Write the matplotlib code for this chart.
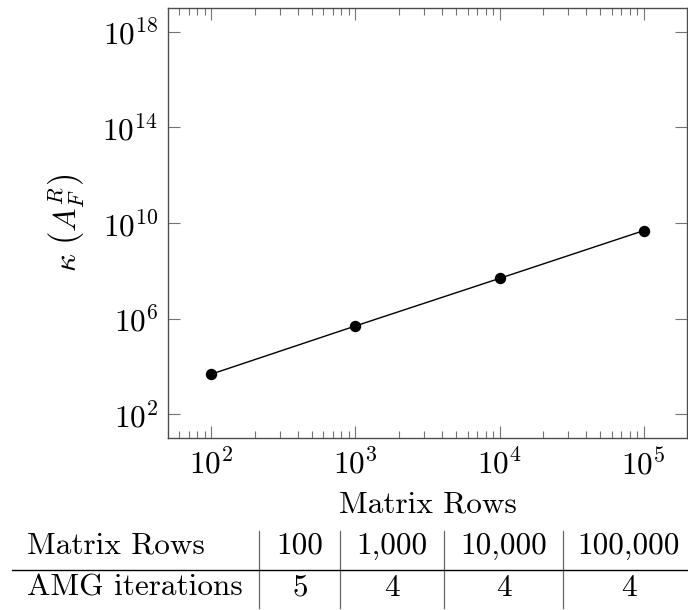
"""Condition number of A_F^R vs matrix rows, with AMG iteration table."""

import matplotlib

matplotlib.use("Agg")
import matplotlib.pyplot as plt
from matplotlib.lines import Line2D
from matplotlib.ticker import LogLocator, LogFormatterMathtext, NullFormatter, NullLocator

plt.rcParams["font.family"] = ["cmr10", "DejaVu Serif"]
plt.rcParams["mathtext.fontset"] = "cm"
plt.rcParams["axes.formatter.use_mathtext"] = True

# data
rows = [1e2, 1e3, 1e4, 1e5]
kappa = [4.7e3, 4.9e5, 4.8e7, 4.8e9]
table_head = ["Matrix Rows", "100", "1,000", "10,000", "100,000"]
table_iter = ["AMG iterations", "5", "4", "4", "4"]

W, H = 688, 610
FS = 22.5
fig = plt.figure(figsize=(W / 100, H / 100), dpi=100)
ax = fig.add_axes([168 / W, 1 - 438 / H, (687 - 168) / W, (438 - 8) / H])

ax.plot(rows, kappa, color="black", lw=1.0, marker="o", ms=7.2, zorder=3)
ax.set_xscale("log")
ax.set_yscale("log")
ax.set_xlim(10 ** 1.7, 10 ** 5.3)
ax.set_ylim(1e1, 1e19)

ax.xaxis.set_major_locator(LogLocator(base=10, numticks=20))
ax.xaxis.set_minor_locator(LogLocator(base=10, subs=range(2, 10), numticks=20))
ax.xaxis.set_minor_formatter(NullFormatter())
ax.set_yticks([1e2, 1e6, 1e10, 1e14, 1e18])
ax.yaxis.set_major_formatter(LogFormatterMathtext())
ax.yaxis.set_minor_locator(NullLocator())

ax.tick_params(which="both", direction="in", top=True, right=True, color="0.45",
               labelsize=FS, width=0.8)
ax.tick_params(which="major", length=8.4, pad=7)
ax.tick_params(which="minor", length=4.8)
for s in ax.spines.values():
    s.set_color("0.3")
    s.set_linewidth(1.0)

ax.set_ylabel(r"$\kappa\ \left(A_F^R\right)$", fontsize=FS, labelpad=12)
fig.text(427.5 / W, 1 - 505 / H, "Matrix Rows", fontsize=FS, ha="center", va="center")

# table below the plot
col_x = [27, 300, 392, 503.5, 629]
row_y = [543, 585]
for r, vals in zip(row_y, [table_head, table_iter]):
    for i, (cx, v) in enumerate(zip(col_x, vals)):
        fig.text(cx / W, 1 - r / H, v, fontsize=FS, ha="left" if i == 0 else "center",
                 va="center_baseline")
for vx in [259, 340, 444, 563]:
    fig.add_artist(Line2D([vx / W, vx / W], [1 - 531 / H, 1 - 608 / H], color="0.4", lw=0.9))
fig.add_artist(Line2D([12 / W, 1.0], [1 - 570 / H, 1 - 570 / H], color="black", lw=1.0))

fig.savefig("out.png", dpi=100)
